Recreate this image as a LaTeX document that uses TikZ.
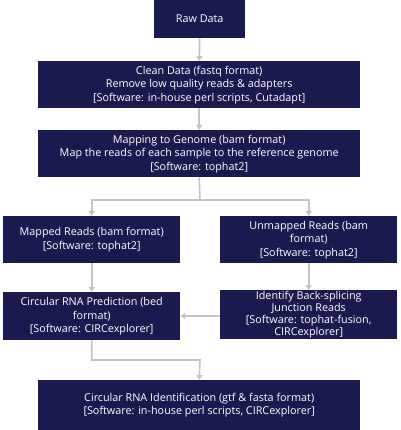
\documentclass[tikz,border=0pt]{standalone}
\usepackage{fontspec}
\setmainfont{Open Sans}
\usetikzlibrary{arrows.meta}
\definecolor{navy}{HTML}{1B1A4F}
\definecolor{flowgray}{HTML}{C4C4C4}
\begin{document}
\begin{tikzpicture}[x=1pt,y=-1pt,font=\fontsize{10.8}{13.5}\selectfont,
  box/.style={fill=navy,text=white,align=center,inner sep=0pt,anchor=north west},
  flow/.style={draw=flowgray,line width=1.6pt,-{Triangle[width=6pt,length=5pt]}}]
  \useasboundingbox (0,0) rectangle (400,430);
  \node[box,minimum width=91pt,minimum height=38pt] (raw) at (154,0) {Raw Data};
  \node[box,minimum width=322pt,minimum height=47pt] (clean) at (38,61)
    {Clean Data (fastq format)\\Remove low quality reads \& adapters\\{[}Software: in-house perl scripts, Cutadapt{]}};
  \node[box,minimum width=322pt,minimum height=47pt] (map) at (38,130)
    {Mapping to Genome (bam format)\\Map the reads of each sample to the reference genome\\{[}Software: tophat2{]}};
  \node[box,minimum width=177pt,minimum height=47pt] (mapped) at (3,216)
    {Mapped Reads (bam format)\\{[}Software: tophat2{]}};
  \node[box,minimum width=177pt,minimum height=47pt] (unmapped) at (220,216)
    {Unmapped Reads (bam\\format)\\{[}Software: tophat2{]}};
  \node[box,minimum width=177pt,minimum height=48pt] (pred) at (3,292)
    {Circular RNA Prediction (bed\\format)\\{[}Software: CIRCexplorer{]}};
  \node[box,minimum width=177pt,minimum height=49pt,font=\fontsize{10.8}{12}\selectfont] (junc) at (220,290)
    {Identify Back-splicing\\Junction Reads\\{[}Software: tophat-fusion,\\CIRCexplorer{]}};
  \node[box,minimum width=322pt,minimum height=50pt] (ident) at (38,380)
    {Circular RNA Identification (gtf \& fasta format)\\{[}Software: in-house perl scripts, CIRCexplorer{]}};
  \coordinate (split) at (200,200);
  \coordinate (merge) at (200,360);
  \draw[flow] (raw) -- (clean);
  \draw[flow] (clean) -- (map);
  \draw[draw=flowgray,line width=1.6pt] (map.south) -- (split);
  \draw[flow] (split) -| (mapped.north);
  \draw[flow] (split) -| (unmapped.north);
  \draw[flow] (mapped) -- (pred);
  \draw[flow] (unmapped) -- (junc);
  \draw[flow] (junc.west |- 0,316) -- (pred.east |- 0,316);
  \draw[flow] (pred.south) |- (merge) -- (ident.north);
\end{tikzpicture}
\end{document}
